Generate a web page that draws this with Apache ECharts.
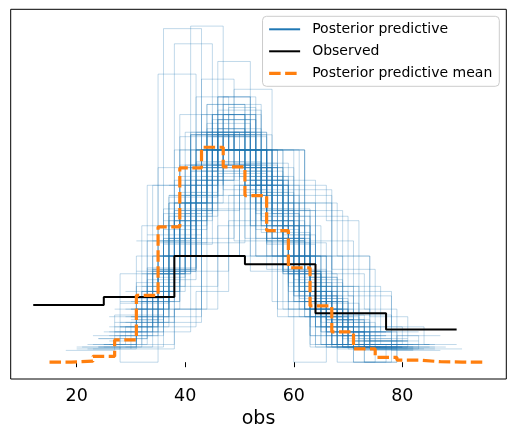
<!DOCTYPE html>
<html lang="en">
<head>
    <meta charset="UTF-8">
    <title>Posterior predictive check</title>
    <style>
        html, body { margin: 0; padding: 0; background: #fff; }
        #main { width: 515px; height: 443px; }
    </style>
</head>
<body>
<div id="main"></div>
<script src="https://cdn.jsdelivr.net/npm/echarts@6.0.0/dist/echarts.min.js"></script>
<script>
    // observed data: 50 values, histogram with 13-wide bins
    const obsSize = 50;
    const obsEdges = [12, 25, 38, 51, 64, 77, 90];
    const obsCounts = [7, 8, 13, 12, 6, 4];

    // posterior predictive mean histogram (density), 4-wide bins
    const meanEdges = [15, 19, 23, 27, 31, 35, 39, 43, 47, 51, 55, 59, 63, 67, 71, 75, 79, 83, 87, 91, 95];
    const meanDensity = [0.00002, 0.0002, 0.0011, 0.0042, 0.0126, 0.0255, 0.0366, 0.0405, 0.0368, 0.0314,
        0.0248, 0.0178, 0.0106, 0.0057, 0.0025, 0.0009, 0.0004, 0.0001, 0.00003, 0.00002];

    // posterior predictive draws (50 values each): first bin edge, bin width, counts per bin
    const ppStart = [28, 25, 30, 21, 33, 27, 29, 31, 35, 24, 34, 26, 37, 29, 32, 23, 30, 27, 33, 25,
        38, 28, 31, 20, 35, 29, 26, 34, 24, 36, 30, 27, 39, 22, 32, 28, 33, 26, 37, 31,
        34, 28, 35, 23, 40, 31, 18, 36, 34, 30, 37, 32, 39, 29, 35, 22,
        25, 27, 23, 26, 29, 20, 31, 28, 33, 24, 30, 36, 27, 38,
        27, 32, 29, 34, 25, 30, 36, 28, 26, 33, 31, 24, 35, 29, 37, 27, 32, 30, 26, 34];
    const ppWidth = [7, 7, 6, 7, 6, 8, 7, 7, 6, 7, 7, 6, 6, 8, 6, 8, 6, 7, 7, 6,
        5, 8, 6, 8, 7, 6, 7, 6, 9, 6, 7, 6, 5, 8, 7, 6, 8, 7, 7, 5,
        6, 7, 7, 6, 6, 8, 9, 6, 7, 8, 6, 6, 7, 7, 8, 6,
        7, 6, 8, 5, 6, 7, 7, 9, 5, 9, 7, 7, 8, 6,
        7, 6, 8, 7, 6, 7, 5, 6, 8, 6, 7, 7, 6, 7, 6, 9, 7, 5, 6, 8];
    const ppCounts = [
        [2, 6, 12, 14, 10, 4, 2],
        [1, 4, 10, 15, 11, 6, 2, 1],
        [3, 7, 13, 12, 8, 4, 2, 1],
        [1, 0, 9, 15, 14, 7, 3, 1],
        [4, 9, 14, 11, 7, 3, 1, 1],
        [3, 8, 16, 13, 6, 3, 1],
        [3, 22, 14, 7, 3, 1],
        [6, 21, 13, 6, 3, 1],
        [6, 19, 13, 7, 3, 2],
        [1, 5, 12, 16, 9, 5, 2],
        [8, 15, 13, 8, 4, 1, 1],
        [2, 4, 9, 12, 11, 7, 3, 1, 1],
        [10, 14, 12, 8, 4, 1, 0, 1],
        [4, 12, 17, 10, 5, 2],
        [5, 8, 12, 11, 7, 4, 2, 1],
        [1, 6, 14, 17, 9, 2, 1],
        [3, 7, 12, 14, 8, 0, 4, 2],
        [2, 7, 15, 14, 8, 3, 1],
        [6, 11, 15, 11, 5, 1, 1],
        [1, 3, 8, 13, 12, 7, 4, 1, 1],
        [6, 10, 12, 9, 6, 4, 2, 0, 1],
        [3, 10, 18, 12, 5, 2],
        [3, 9, 16, 12, 6, 3, 1],
        [1, 2, 9, 17, 14, 5, 1, 1],
        [7, 14, 15, 9, 3, 2],
        [2, 6, 11, 14, 10, 5, 1, 0, 1],
        [2, 5, 13, 17, 9, 3, 1],
        [5, 10, 15, 11, 5, 3, 1],
        [2, 7, 17, 15, 7, 2],
        [8, 15, 13, 8, 4, 1, 1],
        [4, 9, 17, 11, 6, 2, 1],
        [1, 5, 8, 14, 11, 6, 3, 1, 1],
        [8, 11, 11, 8, 6, 3, 2, 1],
        [1, 3, 11, 19, 11, 4, 1],
        [5, 13, 16, 10, 4, 1, 1],
        [2, 5, 10, 15, 10, 5, 2, 1],
        [7, 16, 15, 8, 3, 1],
        [3, 8, 12, 13, 9, 4, 0, 1],
        [11, 17, 12, 6, 3, 1],
        [2, 5, 8, 11, 9, 7, 4, 2, 1, 1],
        [4, 9, 17, 11, 6, 2, 1],
        [4, 19, 14, 8, 4, 1],
        [6, 12, 18, 9, 4, 1],
        [1, 2, 5, 10, 14, 10, 5, 2, 1],
        [9, 13, 12, 9, 4, 2, 1],
        [4, 12, 16, 11, 5, 0, 2],
        [1, 4, 13, 18, 11, 3],
        [2, 4, 8, 11, 10, 8, 4, 2, 1],
        [2, 6, 11, 14, 10, 5, 2],
        [1, 4, 12, 16, 11, 5, 1],
        [3, 7, 10, 12, 9, 5, 3, 1],
        [1, 3, 6, 10, 12, 9, 6, 2, 1],
        [5, 9, 14, 11, 7, 3, 1],
        [1, 3, 10, 13, 12, 8, 2, 1],
        [3, 9, 15, 13, 7, 2, 1],
        [1, 5, 10, 13, 11, 6, 3, 1],
        [2, 9, 14, 13, 7, 4, 1],
        [3, 10, 14, 11, 7, 3, 1, 1],
        [2, 8, 17, 13, 7, 2, 1],
        [1, 3, 7, 9, 10, 8, 5, 3, 2, 1, 1],
        [4, 11, 13, 10, 6, 4, 1, 1],
        [1, 1, 7, 15, 14, 8, 3, 1],
        [8, 14, 13, 9, 4, 1, 1],
        [5, 14, 16, 10, 4, 1],
        [6, 7, 9, 9, 7, 5, 4, 2, 1],
        [2, 8, 13, 13, 9, 4, 1],
        [3, 7, 11, 12, 9, 5, 2, 1],
        [7, 12, 14, 10, 5, 2],
        [2, 9, 14, 14, 8, 2, 1],
        [9, 12, 11, 9, 5, 3, 1],
        [2, 6, 13, 15, 9, 4, 1],
        [4, 8, 13, 12, 8, 3, 1, 1],
        [3, 11, 16, 12, 6, 2],
        [6, 13, 14, 10, 5, 2],
        [1, 2, 7, 12, 13, 9, 4, 1, 1],
        [3, 11, 15, 12, 6, 2, 1],
        [5, 9, 11, 9, 7, 5, 2, 1, 1],
        [2, 5, 11, 13, 10, 6, 2, 1],
        [2, 7, 15, 16, 7, 2, 1],
        [4, 10, 14, 10, 7, 3, 2],
        [4, 10, 14, 12, 7, 2, 1],
        [1, 3, 10, 15, 12, 6, 2, 1],
        [5, 11, 15, 10, 5, 3, 1],
        [2, 8, 14, 14, 8, 3, 1],
        [7, 11, 13, 10, 6, 2, 1],
        [3, 10, 17, 13, 5, 2],
        [4, 11, 16, 11, 5, 2, 1],
        [2, 4, 7, 9, 10, 8, 5, 3, 1, 1],
        [1, 4, 9, 13, 12, 7, 3, 1],
        [7, 16, 14, 9, 3, 1]
    ];

    const xTicks = [20, 40, 60, 80];

    // like a "steps-pre" plot: the first bin height is repeated at the first edge
    function stepPoints(edges, heights) {
        let pts = [[edges[0], heights[0]]];
        for (let i = 0; i < heights.length; i++) {
            pts.push([edges[i + 1], heights[i]]);
        }
        return pts;
    }

    let series = [];
    let yMax = 0;

    // posterior predictive draws
    for (let s = 0; s < ppCounts.length; s++) {
        let counts = ppCounts[s];
        let edges = [];
        for (let i = 0; i <= counts.length; i++) {
            edges.push(ppStart[s] + i * ppWidth[s]);
        }
        let dens = counts.map(c => c / (obsSize * ppWidth[s]));
        yMax = Math.max(yMax, ...dens);
        series.push({
            name: 'Posterior predictive',
            type: 'line',
            step: 'start',
            symbol: 'none',
            silent: true,
            z: 1,
            color: '#1f77b4',
            lineStyle: {color: '#1f77b4', width: 1, opacity: 0.28},
            data: stepPoints(edges, dens)
        });
    }

    // observed
    let obsDens = obsCounts.map((c, i) => c / (obsSize * (obsEdges[i + 1] - obsEdges[i])));
    yMax = Math.max(yMax, ...obsDens);
    series.push({
        name: 'Observed',
        type: 'line',
        step: 'start',
        symbol: 'none',
        silent: true,
        z: 3,
        color: '#000000',
        lineStyle: {color: '#000000', width: 2},
        data: stepPoints(obsEdges, obsDens)
    });

    // posterior predictive mean
    yMax = Math.max(yMax, ...meanDensity);
    series.push({
        name: 'Posterior predictive mean',
        type: 'line',
        step: 'start',
        symbol: 'none',
        silent: true,
        z: 4,
        color: '#ff7f0e',
        lineStyle: {color: '#ff7f0e', width: 3.2, type: [11.5, 4.5]},
        data: stepPoints(meanEdges, meanDensity)
    });

    // matplotlib style 5% margins
    let xMin = 12, xMaxData = 95;
    let xPad = (xMaxData - xMin) * 0.05;
    let yPad = yMax * 0.05;

    let myChart = echarts.init(document.getElementById('main'), null, {renderer: 'canvas'});
    let option = {
        animation: false,
        backgroundColor: '#ffffff',
        textStyle: {fontFamily: 'DejaVu Sans'},
        grid: {
            left: 10.7, right: 8.7, top: 9.3, bottom: 64,
            show: true, borderColor: '#000000', borderWidth: 1, backgroundColor: 'transparent'
        },
        legend: {
            orient: 'vertical',
            right: 15.7,
            top: 16.3,
            itemWidth: 31,
            itemHeight: 14,
            itemGap: 8,
            padding: [6, 7, 6, 5],
            borderColor: '#cccccc',
            borderWidth: 1,
            borderRadius: 4,
            backgroundColor: 'rgba(255,255,255,0.8)',
            selectedMode: false,
            textStyle: {fontFamily: 'DejaVu Sans', fontSize: 14, color: '#000000', padding: [0, 0, 0, 7]},
            data: [
                {name: 'Posterior predictive', itemStyle: {opacity: 0}, lineStyle: {color: '#1f77b4', width: 2, opacity: 1}},
                {name: 'Observed', itemStyle: {opacity: 0}, lineStyle: {color: '#000000', width: 2, opacity: 1}},
                {name: 'Posterior predictive mean', itemStyle: {opacity: 0}, lineStyle: {color: '#ff7f0e', width: 3.2, opacity: 1}}
            ]
        },
        xAxis: {
            type: 'value',
            min: xMin - xPad,
            max: xMaxData + xPad,
            name: 'obs',
            nameLocation: 'middle',
            nameGap: 29,
            nameTextStyle: {fontFamily: 'DejaVu Sans', fontSize: 19, color: '#000000'},
            axisLine: {show: false},
            splitLine: {show: false},
            axisTick: {show: true, inside: false, length: 5, customValues: xTicks, lineStyle: {color: '#000000', width: 1}},
            axisLabel: {show: true, margin: 8, customValues: xTicks, fontFamily: 'DejaVu Sans', fontSize: 17.5, color: '#000000'}
        },
        yAxis: {
            type: 'value',
            min: -yPad,
            max: yMax + yPad,
            axisLine: {show: false},
            axisTick: {show: false},
            axisLabel: {show: false},
            splitLine: {show: false}
        },
        series: series
    };
    myChart.setOption(option);
</script>
</body>
</html>
